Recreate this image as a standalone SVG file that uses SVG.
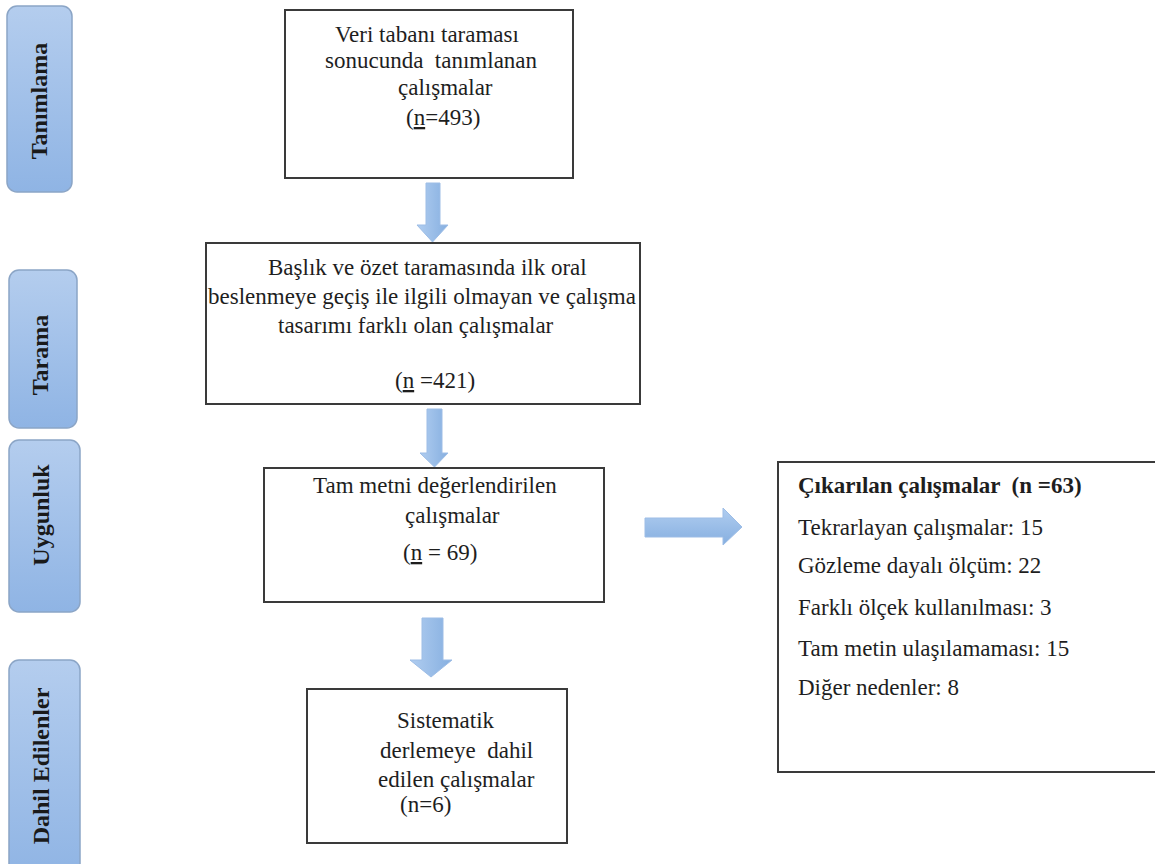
<svg xmlns="http://www.w3.org/2000/svg" width="1155" height="864" viewBox="0 0 1155 864">
<defs>
<linearGradient id="side" x1="0" y1="0" x2="0" y2="1">
<stop offset="0" stop-color="#b4cdee"/>
<stop offset="1" stop-color="#8fb4e4"/>
</linearGradient>
<linearGradient id="arrV" x1="0" y1="0" x2="1" y2="0">
<stop offset="0" stop-color="#b0cdf0"/>
<stop offset="1" stop-color="#86afe0"/>
</linearGradient>
<linearGradient id="arrH" x1="0" y1="0" x2="0" y2="1">
<stop offset="0" stop-color="#b0cdf0"/>
<stop offset="1" stop-color="#86afe0"/>
</linearGradient>
<style>
.side{fill:url(#side);stroke:#8ba5c6;stroke-width:1.5}
.lbl{font-family:"Liberation Serif","Times New Roman",serif;font-weight:bold;font-size:24px;fill:#1a1a1a;text-anchor:middle}
.box{fill:#ffffff;stroke:#3a3a3a;stroke-width:2}
.t{font-family:"Liberation Serif","Times New Roman",serif;font-size:23px;fill:#1e1e1e}
.b{font-weight:bold}
.av{fill:url(#arrV);stroke:#9dbde6;stroke-width:1}
.ah{fill:url(#arrH);stroke:#9dbde6;stroke-width:1}
.u{text-decoration:underline}
</style>
</defs>
<rect width="1155" height="864" fill="#ffffff"/>

<g id="phase-tanimlama">
<rect class="side" x="7" y="6" width="65" height="186" rx="10"/>
<text class="lbl" transform="translate(47,101) rotate(-90)">Tanımlama</text>
</g>
<g id="phase-tarama">
<rect class="side" x="9" y="270" width="68" height="158" rx="10"/>
<text class="lbl" transform="translate(48,355) rotate(-90)">Tarama</text>
</g>
<g id="phase-uygunluk">
<rect class="side" x="9" y="440" width="71" height="172" rx="10"/>
<text class="lbl" transform="translate(49,515) rotate(-90)">Uygunluk</text>
</g>
<g id="phase-dahil">
<rect class="side" x="9" y="660" width="71" height="220" rx="10"/>
<text class="lbl" transform="translate(49,766) rotate(-90)">Dahil Edilenler</text>
</g>

<g id="connectors">
<path class="av" d="M426,183 H440 V225 H448 L432.5,242 L417,225 H426 Z"/>
<path class="av" d="M427,409 H442 V453 H448 L434.5,467 L420,453 H427 Z"/>
<path class="av" d="M422,618 H443 V660 H452 L431,677 L410,660 H422 Z"/>
<path class="ah" d="M645,518 H723 V508 L742,527 L723,545 V537 H645 Z"/>
</g>

<g id="node-identified">
<rect class="box" x="285" y="10" width="288" height="168"/>
<text class="t" x="335" y="42">Veri tabanı taraması</text>
<text class="t" x="325" y="68" xml:space="preserve">sonucunda  tanımlanan</text>
<text class="t" x="398" y="95">çalışmalar</text>
<text class="t" x="406" y="125">(<tspan class="u">n</tspan>=493)</text>
</g>

<g id="node-screened">
<rect class="box" x="206" y="243" width="434" height="161"/>
<text class="t" x="268" y="275">Başlık ve özet taramasında ilk oral</text>
<text class="t" x="208" y="304">beslenmeye geçiş ile ilgili olmayan ve çalışma</text>
<text class="t" x="278" y="333">tasarımı farklı olan çalışmalar</text>
<text class="t" x="395" y="388">(<tspan class="u">n</tspan> =421)</text>
</g>

<g id="node-eligible">
<rect class="box" x="264" y="468" width="340" height="134"/>
<text class="t" x="313" y="493">Tam metni değerlendirilen</text>
<text class="t" x="405" y="523">çalışmalar</text>
<text class="t" x="403" y="560">(<tspan class="u">n</tspan> = 69)</text>
</g>

<g id="node-included">
<rect class="box" x="307" y="689" width="260" height="154"/>
<text class="t" x="397" y="728">Sistematik</text>
<text class="t" x="380" y="758" xml:space="preserve">derlemeye  dahil</text>
<text class="t" x="378" y="787">edilen çalışmalar</text>
<text class="t" x="400" y="812">(n=6)</text>
</g>

<g id="node-excluded">
<rect class="box" x="778" y="462" width="400" height="310"/>
<text class="t b" x="798" y="493" xml:space="preserve">Çıkarılan çalışmalar  (n =63)</text>
<text class="t" x="798" y="535">Tekrarlayan çalışmalar: 15</text>
<text class="t" x="798" y="573">Gözleme dayalı ölçüm: 22</text>
<text class="t" x="798" y="615">Farklı ölçek kullanılması: 3</text>
<text class="t" x="798" y="656">Tam metin ulaşılamaması: 15</text>
<text class="t" x="798" y="695">Diğer nedenler: 8</text>
</g>
</svg>
